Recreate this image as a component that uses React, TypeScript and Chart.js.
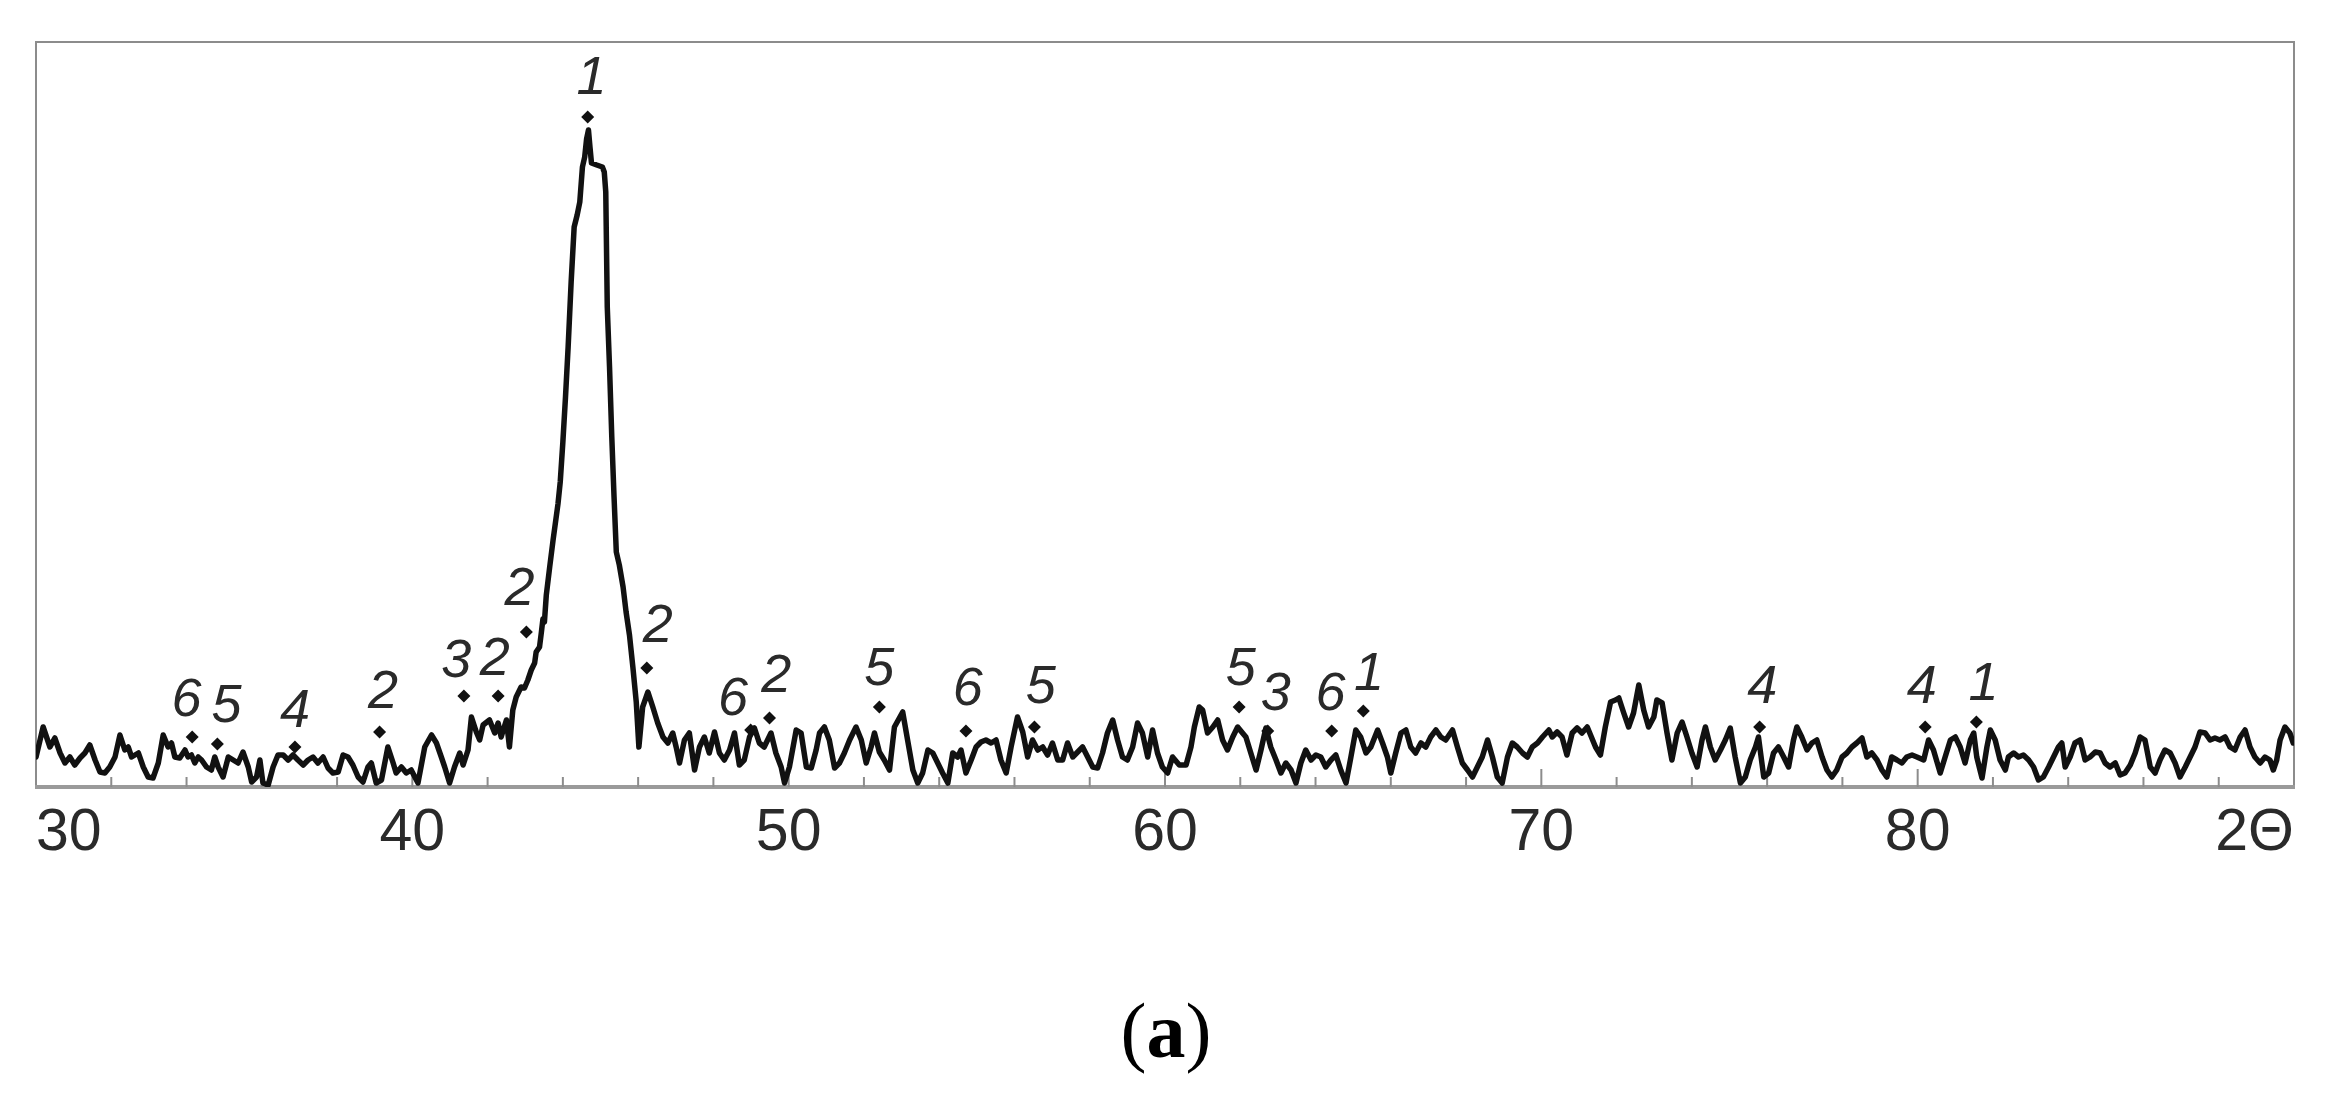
import React, { useEffect, useRef } from 'react';
import { Chart, registerables } from 'chart.js';

Chart.register(...registerables);

// 2θ positions of the diffraction trace (degrees)
const twoTheta = [
  30.0, 30.19, 30.37, 30.5, 30.64, 30.77, 30.9, 31.03, 31.17, 31.3, 31.43, 31.57, 31.7, 31.83, 31.96,
  32.1, 32.23, 32.36, 32.45, 32.54, 32.72, 32.85, 32.98, 33.11, 33.25, 33.38, 33.51, 33.6, 33.69, 33.82,
  33.96, 34.04, 34.13, 34.22, 34.31, 34.4, 34.53, 34.66, 34.75, 34.84, 34.97, 35.11, 35.24, 35.37, 35.5,
  35.64, 35.73, 35.86, 35.95, 36.03, 36.17, 36.3, 36.43, 36.57, 36.7, 36.83, 36.96, 37.1, 37.23, 37.36,
  37.49, 37.63, 37.76, 37.89, 38.03, 38.16, 38.29, 38.42, 38.56, 38.69, 38.82, 38.91, 39.04, 39.18, 39.35,
  39.49, 39.57, 39.71, 39.84, 39.97,
  40.15, 40.33, 40.51, 40.64, 40.77, 40.86, 40.99, 41.12, 41.26, 41.35, 41.48, 41.57, 41.7, 41.79, 41.88,
  42.05, 42.19, 42.28, 42.36, 42.5, 42.58, 42.67, 42.76, 42.89, 42.98, 43.07, 43.16, 43.25, 43.29,
  43.38, 43.43, 43.47, 43.51, 43.56, 43.65, 43.74, 43.87, 43.93, 44.0, 44.07, 44.14, 44.22, 44.3, 44.38,
  44.45, 44.52, 44.58, 44.63, 44.68, 44.72, 44.76, 44.9, 45.05, 45.1, 45.14, 45.18, 45.24, 45.3, 45.36,
  45.42, 45.5, 45.6, 45.68, 45.77, 45.86, 45.95,
  46.02, 46.12, 46.26, 46.39, 46.52, 46.66, 46.79, 46.92, 47.01, 47.1, 47.23, 47.36, 47.5, 47.63, 47.76,
  47.89, 48.03, 48.16, 48.29, 48.43, 48.56, 48.69, 48.82, 48.96, 49.09, 49.22, 49.35, 49.53, 49.66, 49.8,
  49.89, 50.02,
  50.2, 50.33, 50.47, 50.6, 50.73, 50.82, 50.95, 51.08, 51.22, 51.35, 51.48, 51.62, 51.79, 51.93, 52.06,
  52.19, 52.28, 52.41, 52.54, 52.68, 52.81, 53.03, 53.16, 53.3, 53.43, 53.56, 53.7, 53.83, 53.96, 54.09,
  54.23, 54.36, 54.49, 54.58, 54.71, 54.85, 54.98, 55.11, 55.24, 55.38, 55.51, 55.64, 55.78, 55.91, 56.08,
  56.22, 56.35, 56.48, 56.62, 56.75, 56.88, 57.01, 57.15, 57.28, 57.41, 57.55, 57.68, 57.81, 58.08, 58.21,
  58.34, 58.47, 58.61, 58.74, 58.87, 59.0, 59.14, 59.27, 59.4, 59.54, 59.67, 59.8, 59.93, 60.07,
  60.2, 60.38, 60.56, 60.69, 60.78, 60.91, 61.0, 61.13, 61.27, 61.4, 61.53, 61.66, 61.8, 61.93, 62.06,
  62.15, 62.28, 62.42, 62.55, 62.68, 62.81, 62.95, 63.08, 63.21, 63.35, 63.48, 63.61, 63.74, 63.88, 64.01,
  64.14, 64.27, 64.41, 64.54, 64.67, 64.81, 64.94, 65.07, 65.2, 65.34, 65.47, 65.65, 65.78, 65.91, 66.0,
  66.13, 66.27, 66.4, 66.53, 66.66, 66.8, 66.93, 67.06, 67.2, 67.33, 67.46, 67.64, 67.77, 67.9, 68.04,
  68.17, 68.3, 68.43, 68.57, 68.7, 68.83, 68.96, 69.1, 69.23, 69.36, 69.5, 69.63, 69.76, 69.9, 70.03,
  70.2, 70.29, 70.42, 70.55, 70.68, 70.82, 70.95, 71.08, 71.22, 71.44, 71.57, 71.7, 71.84, 71.97, 72.06,
  72.19, 72.32, 72.45, 72.59, 72.72, 72.85, 72.99, 73.07, 73.21, 73.34, 73.47, 73.61, 73.74, 73.87, 74.0,
  74.14, 74.27, 74.36, 74.49, 74.62, 74.76, 74.89, 75.02, 75.15, 75.29, 75.42, 75.55, 75.69, 75.77, 75.91,
  76.04, 76.17, 76.3, 76.44, 76.57, 76.7, 76.79, 76.92, 77.06, 77.19, 77.32, 77.46, 77.59, 77.72, 77.85,
  77.99, 78.12, 78.25, 78.38, 78.52, 78.65, 78.78, 78.92, 79.05, 79.18, 79.31, 79.45, 79.58, 79.71, 79.85,
  79.98,
  80.16, 80.29, 80.42, 80.6, 80.73, 80.87, 81.0, 81.13, 81.26, 81.4, 81.49, 81.57, 81.71, 81.84, 81.93,
  82.06, 82.19, 82.33, 82.41, 82.55, 82.68, 82.81, 82.95, 83.08, 83.21, 83.34, 83.48, 83.61, 83.74, 83.83,
  83.92, 84.05, 84.18, 84.32, 84.45, 84.58, 84.72, 84.85, 84.98, 85.11, 85.25, 85.38, 85.51, 85.65, 85.78,
  85.91, 86.04, 86.18, 86.31, 86.44, 86.57, 86.71, 86.84, 86.97, 87.11, 87.24, 87.37, 87.5, 87.64, 87.77,
  87.9, 88.03, 88.17, 88.3, 88.43, 88.57, 88.7, 88.83, 88.96, 89.1, 89.23, 89.36, 89.45, 89.54, 89.63,
  89.76, 89.89, 89.98,
];

// Intensity (arbitrary units) matching twoTheta
const intensity = [
  30, 60, 40, 49, 34, 24, 30, 22, 29, 34, 42, 27, 15, 14, 20,
  30, 52, 37, 40, 30, 34, 20, 10, 9, 24, 52, 40, 44, 30, 29,
  37, 30, 32, 24, 30, 27, 20, 17, 30, 20, 10, 30, 27, 24, 35,
  20, 5, 10, 27, 4, 2, 20, 32, 32, 27, 32, 27, 22, 27, 30,
  24, 30, 19, 14, 15, 32, 30, 22, 10, 5, 20, 24, 4, 7, 40,
  24, 14, 20, 14, 17,
  4, 40, 52, 44, 30, 20, 4, 20, 34, 22, 37, 70, 55, 47, 62,
  67, 54, 64, 50, 67, 40, 77, 90, 100, 99, 107, 117, 124, 135,
  140, 155, 168, 165, 192, 220, 247, 283, 305, 345, 390, 440, 505, 560, 572,
  585, 620, 630, 648, 657, 640, 624, 622, 620, 615, 595, 480, 420, 350, 290,
  235, 222, 200, 175, 152, 120, 85,
  40, 80, 95, 80, 64, 50, 44, 54, 40, 24, 47, 54, 17, 40, 50,
  34, 55, 34, 27, 37, 54, 22, 27, 50, 59, 44, 40, 54, 34, 20,
  4, 20,
  57, 54, 20, 19, 37, 54, 60, 47, 19, 24, 34, 47, 60, 47, 24,
  40, 54, 35, 27, 17, 60, 75, 47, 17, 4, 14, 37, 34, 24, 14,
  4, 34, 30, 37, 14, 27, 40, 45, 47, 44, 47, 27, 14, 40, 70,
  55, 30, 47, 37, 40, 32, 44, 27, 27, 44, 30, 35, 40, 20, 19,
  34, 54, 67, 47, 30, 27, 40, 64, 54, 30, 57, 34, 20, 14,
  30, 22, 22, 40, 60, 80, 77, 54, 60, 67, 47, 37, 50, 60, 54,
  50, 34, 17, 37, 59, 40, 27, 14, 24, 17, 4, 24, 37, 27, 32,
  30, 20, 27, 32, 17, 4, 30, 57, 50, 34, 40, 57, 44, 30, 14,
  34, 54, 57, 40, 34, 44, 40, 50, 57, 50, 47, 57, 40, 24, 17,
  10, 20, 30, 47, 30, 10, 4, 30, 44, 40, 34, 30, 40, 44, 50,
  57, 50, 55, 50, 32, 54, 59, 54, 60, 40, 32, 60, 85, 87, 89,
  74, 60, 74, 102, 77, 60, 70, 87, 84, 54, 27, 54, 65, 50, 34,
  20, 47, 60, 40, 27, 37, 47, 59, 30, 4, 10, 27, 40, 50, 10,
  14, 34, 40, 30, 20, 47, 60, 50, 37, 44, 47, 30, 17, 10, 17,
  30, 34, 40, 44, 49, 30, 34, 27, 17, 10, 30, 27, 24, 30, 32,
  30,
  27, 47, 37, 14, 30, 47, 50, 40, 24, 47, 54, 30, 9, 40, 57,
  47, 27, 17, 30, 34, 30, 32, 27, 20, 7, 10, 20, 30, 40, 44,
  20, 30, 44, 47, 27, 30, 35, 34, 24, 20, 24, 12, 14, 22, 34,
  50, 47, 20, 14, 27, 37, 34, 24, 10, 20, 30, 40, 55, 54, 47,
  49, 47, 50, 40, 37, 50, 57, 40, 30, 24, 30, 27, 17, 27, 47,
  60, 54, 44,
];

// Phase reflection markers (diamonds)
const markerX = [34.15, 34.82, 36.88, 39.13, 41.37, 42.28, 43.03, 44.66, 46.23, 48.99, 49.49, 52.41, 54.71, 56.53, 61.97, 62.73, 64.43, 65.27, 75.8, 80.2, 81.56];
const markerY = [50, 43, 40, 55, 91, 91, 155, 670, 119, 57, 69, 80, 56, 60, 80, 56, 56, 76, 60, 60, 65];

// Phase labels near the markers
const labelText = ['6', '5', '4', '2', '3', '2', '2', '1', '2', '6', '2', '5', '6', '5', '5', '3', '6', '1', '4', '4', '1'];
const labelX = [34.0, 35.06, 36.88, 39.22, 41.17, 42.19, 42.85, 44.76, 46.52, 48.52, 49.67, 52.41, 54.76, 56.7, 62.01, 62.94, 64.4, 65.42, 75.87, 80.11, 81.75];
const labelY = [86, 80, 75, 94, 125, 127, 197, 708, 160, 87, 110, 117, 97, 99, 117, 92, 92, 112, 99, 99, 102];

// Axis ticks
const xMin = 30;
const xMax = 90;
const xStep = 2;
const majorTickValues = [30, 40, 50, 60, 70, 80, 90];
const majorTickLabels = ['30', '40', '50', '60', '70', '80', '2Θ'];

const SANS = '"Liberation Sans Narrow", "Liberation Sans", Arial, sans-serif';

const decorPlugin = {
  id: 'decor',
  beforeDatasetsDraw(chart: any) {
    const { ctx, chartArea } = chart;
    const { left, right, top, bottom } = chartArea;
    ctx.save();
    // frame
    ctx.strokeStyle = '#8c8c8c';
    ctx.lineWidth = 2;
    ctx.beginPath();
    ctx.moveTo(left, bottom);
    ctx.lineTo(left, top);
    ctx.lineTo(right, top);
    ctx.lineTo(right, bottom);
    ctx.stroke();
    // bottom axis
    ctx.strokeStyle = '#9a9a9a';
    ctx.lineWidth = 4;
    ctx.beginPath();
    ctx.moveTo(left - 1, bottom);
    ctx.lineTo(right + 1, bottom);
    ctx.stroke();
    // inside tick marks
    const xs = chart.scales.x;
    ctx.strokeStyle = '#8c8c8c';
    ctx.lineWidth = 2;
    xs.ticks.forEach((t: any) => {
      const px = xs.getPixelForValue(t.value);
      if (px <= left + 1 || px >= right - 1) return;
      const len = majorTickValues.includes(t.value) ? 18 : 10;
      ctx.beginPath();
      ctx.moveTo(px, bottom);
      ctx.lineTo(px, bottom - len);
      ctx.stroke();
    });
    ctx.restore();
  },
  afterDatasetsDraw(chart: any) {
    const { ctx } = chart;
    const xs = chart.scales.x;
    const ys = chart.scales.y;
    ctx.save();
    ctx.fillStyle = '#2a2a2a';
    ctx.font = `italic 54px ${SANS}`;
    ctx.textAlign = 'center';
    ctx.textBaseline = 'middle';
    labelText.forEach((txt, i) => {
      ctx.fillText(txt, xs.getPixelForValue(labelX[i]), ys.getPixelForValue(labelY[i]));
    });
    ctx.restore();
  },
};

export default function App() {
  const canvasRef = useRef<HTMLCanvasElement | null>(null);

  useEffect(() => {
    if (!canvasRef.current) return;
    const trace = twoTheta.map((x, i) => ({ x, y: intensity[i] }));
    const markers = markerX.map((x, i) => ({ x, y: markerY[i] }));
    const chart = new Chart(canvasRef.current, {
      type: 'line',
      data: {
        datasets: [
          {
            label: 'XRD',
            data: trace,
            borderColor: '#111111',
            borderWidth: 5.5,
            pointRadius: 0,
            tension: 0,
            fill: false,
            borderJoinStyle: 'round',
            borderCapStyle: 'round',
          } as any,
          {
            type: 'scatter',
            label: 'phases',
            data: markers,
            pointStyle: 'rectRot',
            pointRadius: 6.5,
            pointBackgroundColor: '#111111',
            pointBorderWidth: 0,
            showLine: false,
          } as any,
        ],
      },
      options: {
        responsive: false,
        animation: false,
        layout: { padding: { left: 36, right: 38, top: 42, bottom: 0 } },
        plugins: {
          legend: { display: false },
          tooltip: { enabled: false },
          title: { display: false },
        },
        scales: {
          x: {
            type: 'linear',
            position: 'bottom',
            min: xMin,
            max: xMax,
            grid: { display: false, drawTicks: false },
            border: { display: false },
            afterFit: (scale: any) => {
              scale.height = 113;
            },
            ticks: {
              stepSize: xStep,
              autoSkip: false,
              maxRotation: 0,
              minRotation: 0,
              align: 'inner',
              padding: 11,
              color: '#2a2a2a',
              font: { family: SANS, size: 59 },
              callback: (value: any) => {
                const idx = majorTickValues.indexOf(Number(value));
                return idx >= 0 ? majorTickLabels[idx] : '';
              },
            },
          },
          y: {
            display: false,
            min: 0,
            max: 745,
          },
        },
      } as any,
      plugins: [decorPlugin],
    });
    return () => chart.destroy();
  }, []);

  return (
    <div style={{ position: 'absolute', left: 0, top: 0, width: 2332, height: 1096, background: '#fff' }}>
      <canvas ref={canvasRef} width={2332} height={900} style={{ display: 'block', width: 2332, height: 900 }} />
      <div
        style={{
          position: 'absolute',
          left: 0,
          top: 992,
          width: 2332,
          textAlign: 'center',
          fontFamily: '"Liberation Serif", "DejaVu Serif", serif',
          fontSize: 78,
          lineHeight: '78px',
          color: '#000',
        }}
      >
        (<b>a</b>)
      </div>
    </div>
  );
}
